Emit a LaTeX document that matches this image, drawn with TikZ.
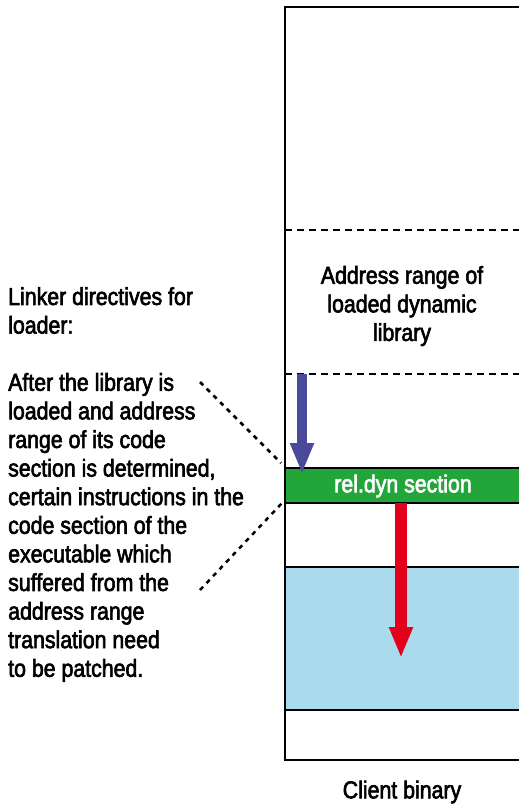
\documentclass[tikz,border=0pt]{standalone}
\usepackage{fontspec}
\setmainfont[FakeStretch=0.87,FakeBold=2.5]{Liberation Sans}
\usetikzlibrary{arrows.meta}
\definecolor{secgreen}{RGB}{34,166,58}
\definecolor{seclblue}{RGB}{170,219,236}
\definecolor{arrred}{RGB}{226,0,26}
\definecolor{arrblue}{RGB}{74,74,154}
\tikzset{
  txt/.style={font=\fontsize{24.5}{28.6}\selectfont, inner sep=0pt},
  frame/.style={line width=2pt, draw=black},
  dashsep/.style={line width=2pt, dash pattern=on 7pt off 5pt},
  pointer/.style={line width=2.5pt, dash pattern=on 4.5pt off 5pt},
  bigarrow/.style={line width=#1, -{Triangle[width=22pt,length=31pt]}},
}
\begin{document}
\begin{tikzpicture}[x=1pt,y=-1pt]
\useasboundingbox (0,0) rectangle (519,806);
\clip (0,0) rectangle (519,806);
% sections
\filldraw[frame, fill=secgreen] (285,468) rectangle (530,503);
\filldraw[frame, fill=seclblue] (285,567) rectangle (530,710);
\draw[frame] (285,7) rectangle (530,760);
\draw[dashsep] (285,230) -- (530,230);
\draw[dashsep] (285,374) -- (530,374);
% texts
\node[txt, align=center] (addr) at (402,306) {Address range of\\loaded dynamic\\library};
\node[txt, text=white] (rel) at (403,486) {rel.dyn section};
\node[txt] (client) at (402,792) {Client binary};
\node[txt, align=left, anchor=north west] (desc) at (8,287) {Linker directives for\\loader:\\[28.6pt]After the library is\\loaded and address\\range of its code\\section is determined,\\certain instructions in the\\code section of the\\executable which\\suffered from the\\address range\\translation need\\to be patched.};
% arrows
\coordinate (bs) at (302,374);
\coordinate (be) at (302,474);
\coordinate (rs) at (401,503);
\coordinate (re) at (401,658);
\draw[bigarrow=10pt, draw=arrblue, fill=arrblue] (bs) -- (be);
\draw[bigarrow=12pt, draw=arrred, fill=arrred] (rs) -- (re);
% pointers
\coordinate (p1s) at (200,382);
\coordinate (p1e) at (281,463);
\coordinate (p2s) at (200,590);
\coordinate (p2e) at (283,502);
\draw[pointer] (p1s) -- (p1e);
\draw[pointer] (p2s) -- (p2e);
\end{tikzpicture}
\end{document}
